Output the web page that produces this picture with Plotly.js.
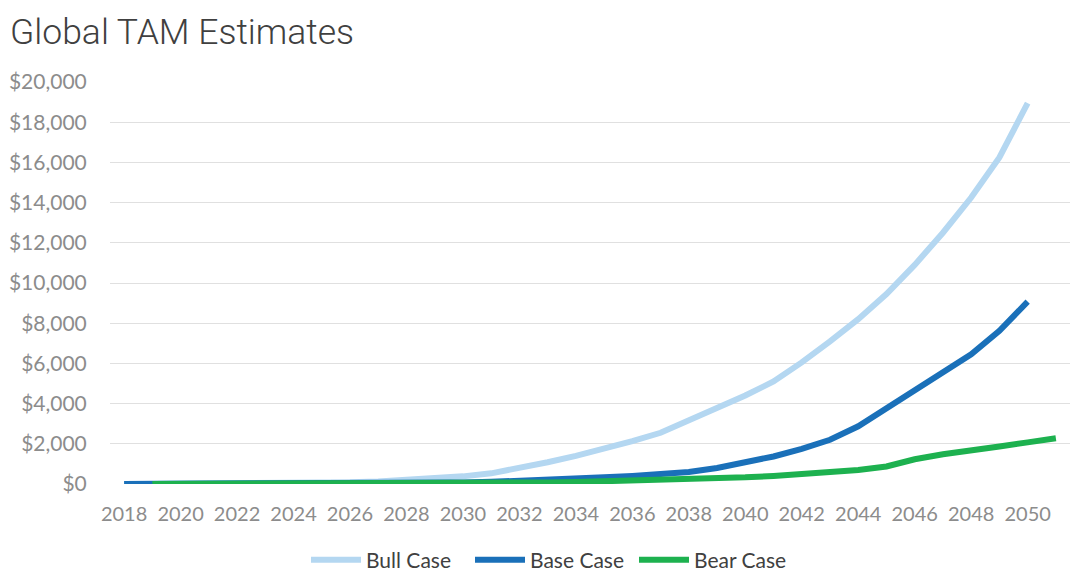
<!DOCTYPE html>
<html>
<head>
<meta charset="utf-8">
<script src="https://cdn.plot.ly/plotly-3.0.1.min.js"></script>
<style>html,body{margin:0;padding:0;background:#fff;}#chart{width:1080px;height:580px;}</style>
</head>
<body>
<div id="chart"></div>
<script>
const years = [2018,2019,2020,2021,2022,2023,2024,2025,2026,2027,2028,2029,2030,2031,2032,2033,2034,2035,2036,2037,2038,2039,2040,2041,2042,2043,2044,2045,2046,2047,2048,2049,2050,2051];
const tickYears = [2018,2020,2022,2024,2026,2028,2030,2032,2034,2036,2038,2040,2042,2044,2046,2048,2050];
const bullCase = [2,4,6,9,14,22,35,55,85,130,190,270,380,530,780,1080,1400,1750,2130,2550,3150,3750,4400,5100,6050,7100,8200,9450,10900,12500,14250,16250,18950,null];
const baseCase = [1,2,3,4,5,7,9,12,20,30,40,55,80,110,150,200,260,330,400,480,600,800,1080,1370,1750,2200,2870,3780,4670,5530,6450,7620,9070,null];
const bearCase = [null,1,2,2,3,3,4,5,10,15,20,25,35,45,60,80,100,130,165,200,230,270,330,400,480,580,700,870,1230,1480,1650,1870,2070,2280];
const seriesNames = ['Bull Case','Base Case','Bear Case'];
const seriesColors = ['#b4d7f1','#1a70b9','#1db14f'];

const traces = [bullCase, baseCase, bearCase].map((vals, i) => ({
  type: 'scatter',
  mode: 'lines',
  x: years,
  y: vals,
  name: seriesNames[i],
  connectgaps: false,
  line: {color: seriesColors[i], width: 6, shape: 'linear'},
  hoverinfo: 'skip'
}));

const layout = {
  width: 1080,
  height: 580,
  paper_bgcolor: '#ffffff',
  plot_bgcolor: '#ffffff',
  margin: {l: 110, r: 10, t: 82, b: 96, autoexpand: false},
  title: {
    text: 'Global TAM Estimates',
    x: 10/1080, xanchor: 'left', xref: 'container',
    y: 1 - 32/580, yanchor: 'middle', yref: 'container',
    font: {family: 'Roboto, "Open Sans", sans-serif', size: 35.5, color: '#404040', weight: 300}
  },
  showlegend: true,
  legend: {
    orientation: 'h',
    x: (306 - 110) / 960, xanchor: 'left',
    y: -(560 - 484) / 402, yanchor: 'middle',
    font: {family: 'Lato, "Open Sans", sans-serif', size: 21, color: '#404040'},
    itemwidth: 50,
    entrywidth: 99,
    entrywidthmode: 'pixels',
    traceorder: 'normal',
    bgcolor: 'rgba(0,0,0,0)'
  },
  xaxis: {
    range: [2017.5, 2051.5],
    tickmode: 'array',
    tickvals: tickYears,
    ticktext: tickYears.map(String),
    showgrid: false,
    zeroline: false,
    showline: false,
    ticks: 'outside', ticklen: 12, tickcolor: 'rgba(0,0,0,0)',
    tickfont: {family: 'Lato, "Open Sans", sans-serif', size: 20, color: '#8c8c8c'},
    fixedrange: true
  },
  yaxis: {
    range: [0, 20000],
    tickmode: 'linear', tick0: 0, dtick: 2000,
    tickprefix: '$',
    tickformat: ',d',
    showgrid: true,
    gridcolor: '#e0e0e0',
    gridwidth: 1,
    zeroline: false,
    showline: false,
    ticks: 'outside', ticklen: 18, tickcolor: 'rgba(0,0,0,0)',
    tickfont: {family: 'Lato, "Open Sans", sans-serif', size: 21, color: '#8c8c8c'},
    fixedrange: true
  }
};

Plotly.newPlot('chart', traces, layout, {displayModeBar: false, staticPlot: true});
</script>
</body>
</html>
